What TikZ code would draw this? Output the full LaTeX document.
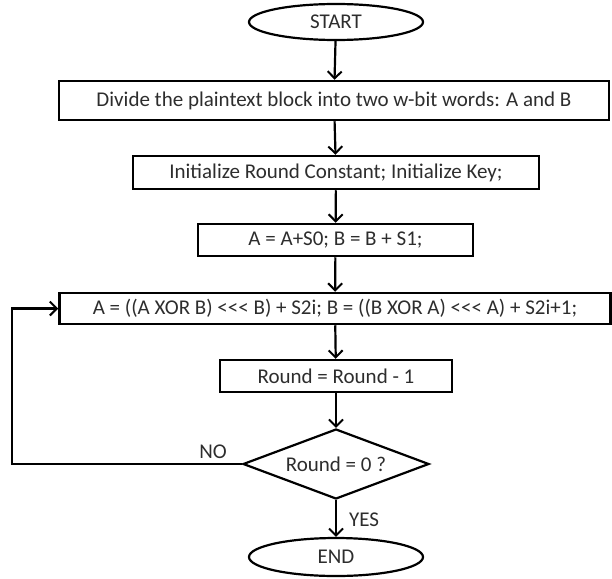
\documentclass[tikz,border=0pt]{standalone}
\usepackage{fontspec}
\setmainfont{Carlito}
\usetikzlibrary{shapes.geometric,arrows.meta}
\definecolor{inkgray}{RGB}{45,45,45}

\newcommand{\rotl}{<\kern0pt<\kern0pt<} % keep the three < from merging

\tikzset{
  every node/.style={font=\fontsize{21}{24}\selectfont,text=inkgray},
  stepbox/.style={draw=black,line width=2.5pt,rectangle,inner sep=0pt},
  terminal/.style={draw=black,line width=2.2pt,ellipse,inner sep=0pt,minimum width=174pt,minimum height=36pt},
  decision/.style={draw=black,line width=2.2pt,diamond,inner sep=0pt,aspect=2.6,minimum width=186pt,minimum height=70pt},
  flow/.style={line width=2.2pt,-{Straight Barb[length=7pt,width=14pt,line width=2pt]}},
}

\begin{document}
\begin{tikzpicture}[x=1pt,y=-1pt]
\useasboundingbox (0,0) rectangle (612,578); % page frame

% terminals and steps
\node[terminal] (start) at (336,22) {START};
\node[stepbox,minimum width=550pt,minimum height=39pt] (divide) at (334,100.5) {Divide the plaintext block into two w-bit words: A and B};
\node[stepbox,minimum width=406pt,minimum height=33pt] (init) at (336,172.5) {Initialize Round Constant; Initialize Key;};
\node[stepbox,minimum width=275pt,minimum height=32pt] (addkey) at (335.5,240) {A = A+S0; B = B + S1;};
\node[stepbox,minimum width=551pt,minimum height=31pt] (round) at (335,308.5) {A = ((A XOR B) \rotl{} B) + S2i; B = ((B XOR A) \rotl{} A) + S2i+1;};
\node[stepbox,minimum width=232pt,minimum height=32pt] (count) at (336,376) {Round = Round - 1};
\node[decision] (check) at (336,464) {Round = 0 ?};
\node[terminal,minimum height=38pt] (finish) at (336,557) {END};

% connectors
\draw[flow] (start) -- (divide);
\draw[flow] (divide) -- (init);
\draw[flow] (init) -- (addkey);
\draw[flow] (addkey) -- (round);
\draw[flow] (round) -- (count);
\draw[flow] (count) -- (check);
\draw[flow] (check) -- (finish);
\coordinate (loopcorner) at (12,464); % left turn of the back loop
\draw[flow] (check.west) -- (loopcorner) |- (round.west);

% labels
\node (no) at (213,452) {NO};
\node (yes) at (364,520) {YES};
\end{tikzpicture}
\end{document}
